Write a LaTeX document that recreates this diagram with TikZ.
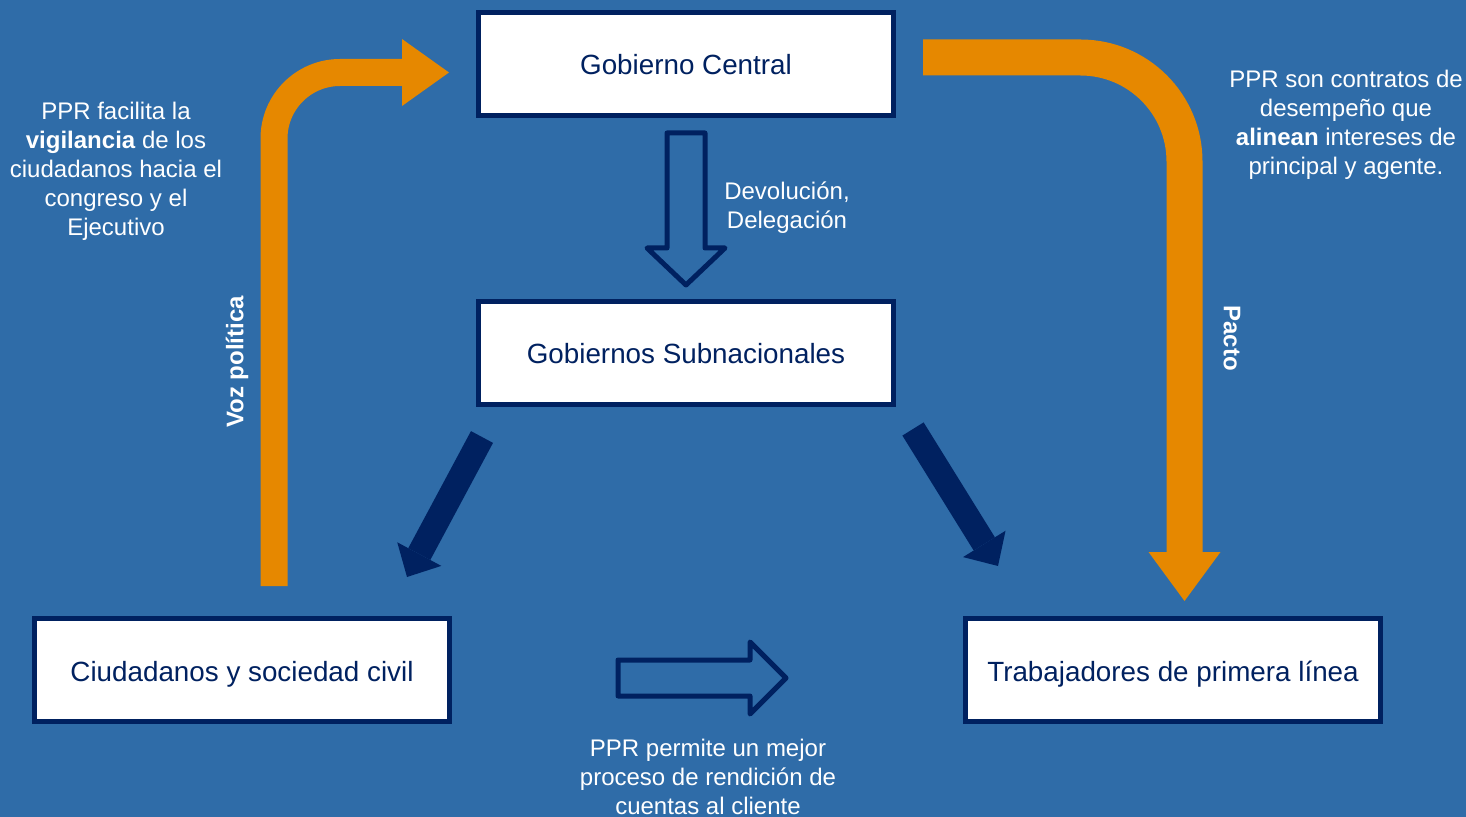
\documentclass[tikz,border=0pt]{standalone}
\usepackage{fontspec}
\setmainfont{Liberation Sans}
\usetikzlibrary{arrows.meta}
\definecolor{fondo}{RGB}{47,108,168}
\definecolor{naranja}{RGB}{230,136,0}
\definecolor{marino}{RGB}{0,33,96}

\begin{document}
\begin{tikzpicture}[x=0.5pt,y=-0.5pt,
      caja/.style={draw=marino,fill=white,line width=2.5pt,minimum width=207.5pt,
        minimum height=51.5pt,text height=12pt,text depth=1pt,text=marino,
        font=\fontsize{13.9}{16}\selectfont},
      nota/.style={text=white,align=center,font=\fontsize{12}{14.5}\selectfont},
      notab/.style={text=white,font=\bfseries\fontsize{12}{14.5}\selectfont},
      hueca/.style={draw=marino,line width=2.5pt,line join=round},
      oscura/.style={draw=marino,line width=12.5pt,
        -{Triangle[length=13pt,width=25pt,line width=0pt]}},
      voz/.style={draw=naranja,line width=13.5pt,rounded corners=33pt,
        -{Triangle[length=23.5pt,width=33.5pt,line width=0pt]}},
      pacto/.style={draw=naranja,line width=18pt,rounded corners=52pt,
        -{Triangle[length=24.5pt,width=36pt,line width=0pt]}}]
      \useasboundingbox (0,0) rectangle (1466,817);
      \fill[fondo] (0,0) rectangle (1466,817);
      % cajas
      \node[caja] (central) at (686,64) {Gobierno Central};
      \node[caja] (subnac) at (686,353) {Gobiernos Subnacionales};
      \node[caja] (ciudad) at (242,670) {Ciudadanos y sociedad civil};
      \node[caja] (trabaj) at (1173,670) {Trabajadores de primera línea};
      % flechas huecas
      \draw[hueca,shift={(686,133)}] (-19,0) -- (19,0) -- (19,115) -- (39,115)
        -- (0,152) -- (-39,115) -- (-19,115) -- cycle;
      \draw[hueca,shift={(618,678)}] (0,-18) -- (132,-18) -- (132,-36) -- (168,0)
        -- (132,36) -- (132,18) -- (0,18) -- cycle;
      % flechas oscuras
      \coordinate (izqa) at (482,437);
      \coordinate (izqb) at (407,577);
      \coordinate (dera) at (913,429);
      \coordinate (derb) at (998,566);
      \draw[oscura] (izqa) -- (izqb);
      \draw[oscura] (dera) -- (derb);
      % flechas naranjas
      \coordinate (vozini) at (274,586);
      \coordinate (vozfin) at (449,72.5);
      \coordinate (pactoini) at (923,57.5);
      \coordinate (pactofin) at (1184.5,601);
      \draw[voz] (vozini) |- (vozfin);
      \draw[pacto] (pactoini) -| (pactofin);
      % textos
      \node[nota] (devol) at (787,208) {Devolución,\\Delegación};
      \node[nota] (vigil) at (116,171) {PPR facilita la\\\textbf{vigilancia} de los\\ciudadanos hacia el\\congreso y el\\Ejecutivo};
      \node[nota] (contra) at (1346,124.5) {PPR son contratos de\\desempeño que\\\textbf{alinean} intereses de\\principal y agente.};
      \node[nota] (rendic) at (708,777) {PPR permite un mejor\\proceso de rendición de\\cuentas al cliente};
      \node[notab,rotate=90] (vozlbl) at (237,362) {Voz política};
      \node[notab,rotate=-90] (pactolbl) at (1232,338) {Pacto};
    \end{tikzpicture}
\end{document}
